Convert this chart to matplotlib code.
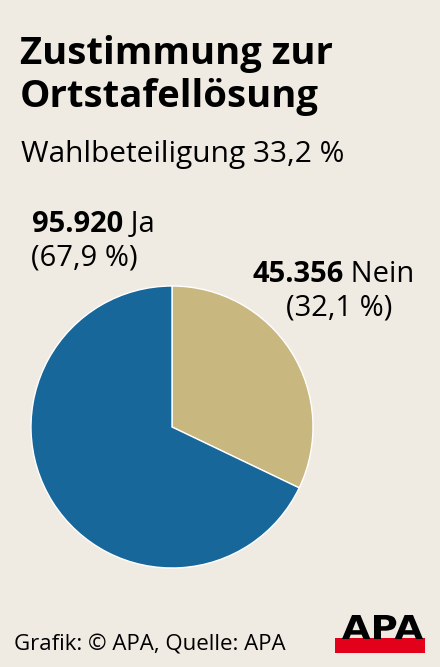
import matplotlib
matplotlib.use("Agg")
import matplotlib.pyplot as plt
from matplotlib.patches import Rectangle, PathPatch
from matplotlib.textpath import TextPath
from matplotlib.font_manager import FontProperties
from matplotlib.transforms import Affine2D

plt.rcParams['font.family'] = ['Open Sans', 'DejaVu Sans']

labels = ["Nein", "Ja"]
votes = [45356, 95920]
shares = ["32,1 %", "67,9 %"]
vote_text = ["45.356", "95.920"]
colors = ["#c8b77e", "#17679a"]
bg = "#efebe2"

W, H = 440, 667
fig = plt.figure(figsize=(W / 100, H / 100), dpi=100, facecolor=bg)

# pie axes: centre ~ (172, 427) px, radius ~141 px
cx, cy, r = 172, 427, 141
ax = fig.add_axes([(cx - r) / W, (H - cy - r) / H, 2 * r / W, 2 * r / H])
ax.pie(votes, colors=colors, startangle=90, counterclock=False,
       wedgeprops=dict(linewidth=1.0, edgecolor="white"))
ax.set_aspect("auto")
ax.set_xlim(-1, 1)
ax.set_ylim(-1, 1)
ax.axis("off")

def px(x, y):
    return x / W, 1 - y / H

fig.text(*px(20, 64), "Zustimmung zur", fontsize=27.5, fontweight="bold", va="baseline")
fig.text(*px(20, 107), "Ortstafellösung", fontsize=27.5, fontweight="bold", va="baseline")
fig.text(*px(21, 162), "Wahlbeteiligung 33,2 %", fontsize=21.5, va="baseline")

# Ja label
t = fig.text(*px(32, 232), vote_text[1], fontsize=21, fontweight="bold", va="baseline")
ax.annotate(" " + labels[1], xy=(1, 0), xycoords=t, fontsize=21, va="bottom",
            annotation_clip=False)
fig.text(*px(31, 266), "(" + shares[1] + ")", fontsize=21, va="baseline")

# Nein label
t2 = fig.text(*px(252, 282), vote_text[0], fontsize=21, fontweight="bold", va="baseline")
ax.annotate(" " + labels[0], xy=(1, 0), xycoords=t2, fontsize=21, va="bottom",
            annotation_clip=False)
fig.text(*px(286, 315), "(" + shares[0] + ")", fontsize=21, va="baseline")

fig.text(*px(14, 650), "Grafik: © APA, Quelle: APA", fontsize=16, va="baseline")

# APA logo: red bar + wide heavy letters
fig.patches.append(Rectangle(px(335, 653), 90 / W, 15 / H, transform=fig.transFigure,
                             facecolor="#e2001a", edgecolor="none"))
tp = TextPath((0, 0), "APA", size=1, prop=FontProperties(family="DejaVu Sans", weight="bold"))
ext = tp.get_extents()
x0, x1, y0, y1 = 342, 423, 615, 639
tr = (Affine2D().translate(-ext.x0, -ext.y0)
      .scale((x1 - x0) / ext.width / W, (y1 - y0) / ext.height / H)
      .translate(x0 / W, 1 - y1 / H) + fig.transFigure)
fig.patches.append(PathPatch(tp, transform=tr, facecolor="black", edgecolor="none"))

fig.savefig("out.png", dpi=100, facecolor=bg)
